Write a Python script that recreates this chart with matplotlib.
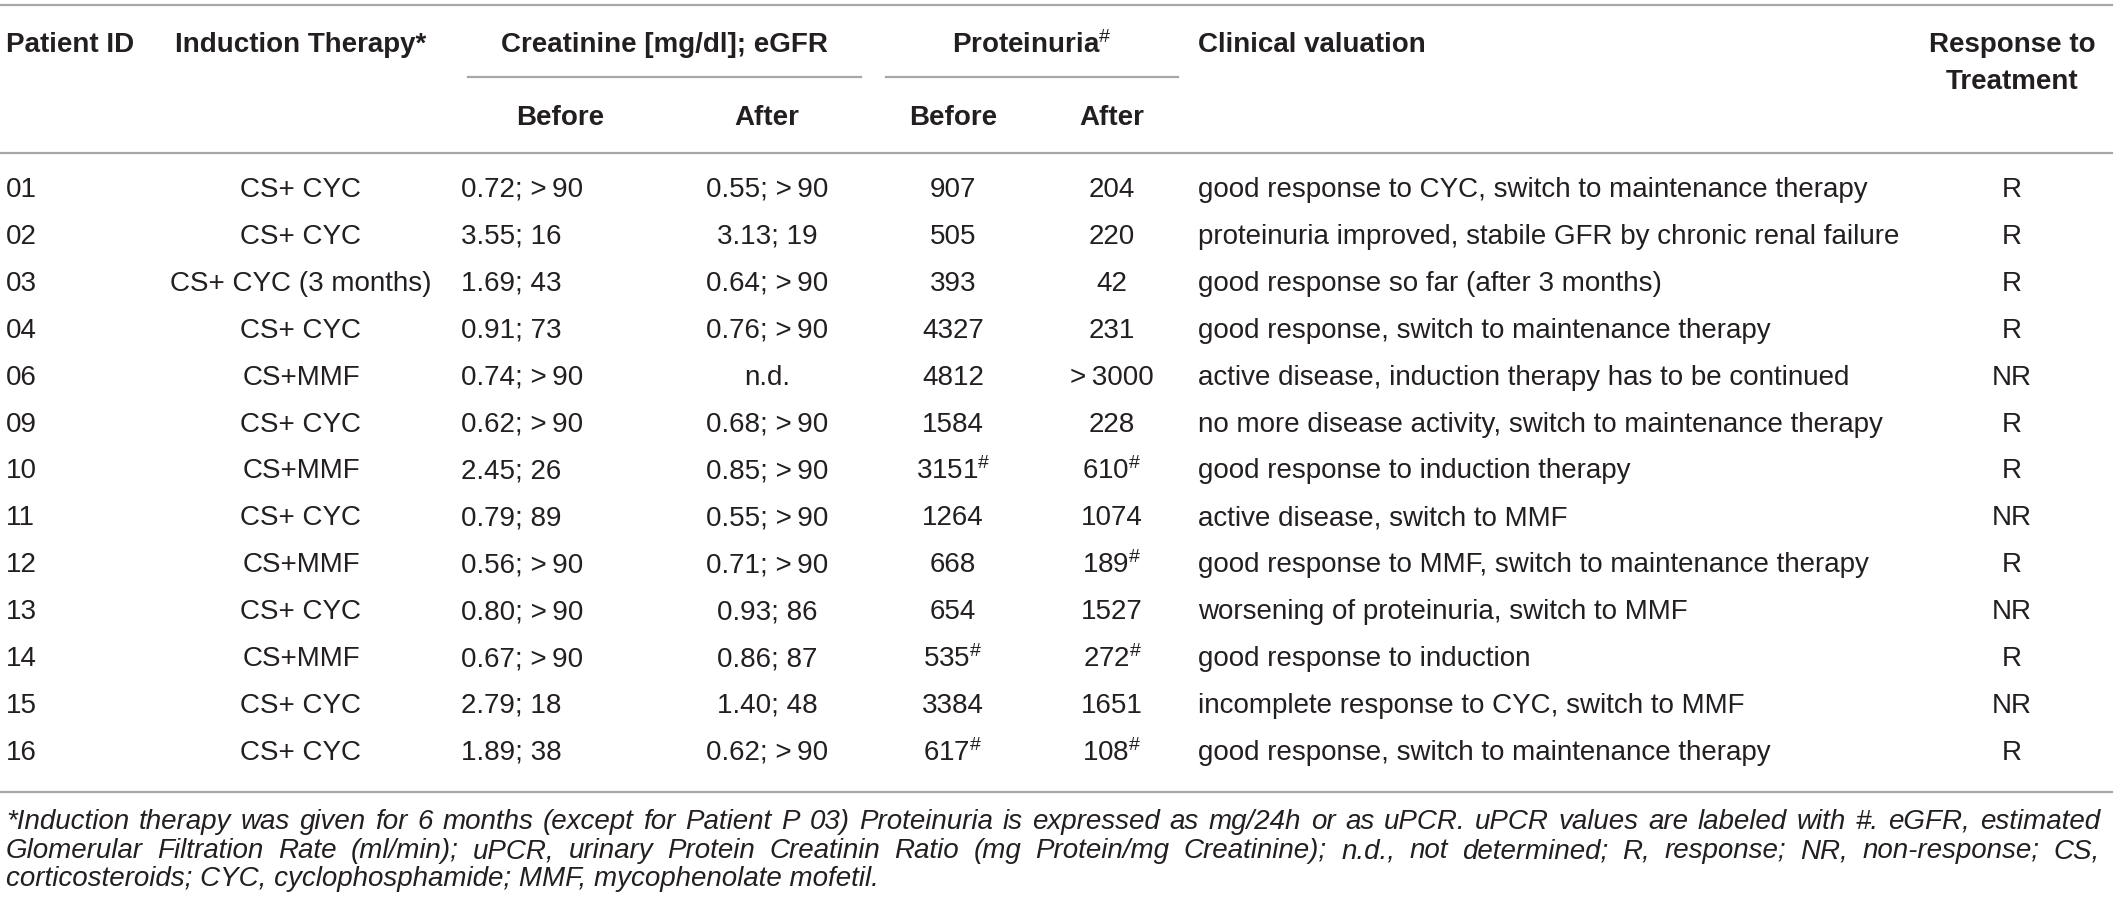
import matplotlib
matplotlib.use("Agg")
import matplotlib.pyplot as plt

plt.rcParams['font.family'] = ['Liberation Sans', 'DejaVu Sans']
plt.rcParams['mathtext.fontset'] = 'custom'
plt.rcParams['mathtext.rm'] = 'Liberation Sans'
plt.rcParams['mathtext.it'] = 'Liberation Sans:italic'
plt.rcParams['mathtext.bf'] = 'Liberation Sans:bold'

# table data
patient_ids = ['01', '02', '03', '04', '06', '09', '10', '11', '12', '13', '14', '15', '16']
induction = ['CS+ CYC', 'CS+ CYC', 'CS+ CYC (3 months)', 'CS+ CYC', 'CS+MMF', 'CS+ CYC',
             'CS+MMF', 'CS+ CYC', 'CS+MMF', 'CS+ CYC', 'CS+MMF', 'CS+ CYC', 'CS+ CYC']
creat_before = ['0.72; >90', '3.55; 16', '1.69; 43', '0.91; 73', '0.74; >90', '0.62; >90',
                '2.45; 26', '0.79; 89', '0.56; >90', '0.80; >90', '0.67; >90', '2.79; 18', '1.89; 38']
creat_after = ['0.55; >90', '3.13; 19', '0.64; >90', '0.76; >90', 'n.d.', '0.68; >90',
               '0.85; >90', '0.55; >90', '0.71; >90', '0.93; 86', '0.86; 87', '1.40; 48', '0.62; >90']
prot_before = ['907', '505', '393', '4327', '4812', '1584', '3151#', '1264', '668', '654',
               '535#', '3384', '617#']
prot_after = ['204', '220', '42', '231', '>3000', '228', '610#', '1074', '189#', '1527',
              '272#', '1651', '108#']
clinical = [
    'good response to CYC, switch to maintenance therapy',
    'proteinuria improved, stabile GFR by chronic renal failure',
    'good response so far (after 3 months)',
    'good response, switch to maintenance therapy',
    'active disease, induction therapy has to be continued',
    'no more disease activity, switch to maintenance therapy',
    'good response to induction therapy',
    'active disease, switch to MMF',
    'good response to MMF, switch to maintenance therapy',
    'worsening of proteinuria, switch to MMF',
    'good response to induction',
    'incomplete response to CYC, switch to MMF',
    'good response, switch to maintenance therapy',
]
response = ['R', 'R', 'R', 'R', 'NR', 'R', 'R', 'NR', 'R', 'NR', 'R', 'NR', 'R']

footnote = [
    '*Induction therapy was given for 6 months (except for Patient P 03) Proteinuria is expressed '
    'as mg/24h or as uPCR. uPCR values are labeled with #. eGFR, estimated',
    'Glomerular Filtration Rate (ml/min); uPCR, urinary Protein Creatinin Ratio (mg Protein/mg '
    'Creatinine); n.d., not determined; R, response; NR, non-response; CS,',
    'corticosteroids; CYC, cyclophosphamide; MMF, mycophenolate mofetil.',
]

W, H = 2117, 915
TXT = '#231f20'
LINE = '#a7a7a7'
FS = 20

fig = plt.figure(figsize=(W / 100, H / 100), dpi=100)
ax = fig.add_axes([0, 0, 1, 1])
ax.set_xlim(0, W)
ax.set_ylim(H, 0)
ax.axis('off')


def cell(s):
    s = s.replace('>', '>\u2009')
    if s.endswith('#'):
        return s[:-1] + r'$^{\#}$'
    return s


# header
hy1, hy2 = 45, 118
bold = dict(fontsize=FS, fontweight='bold', color=TXT, va='center')
ax.text(6, hy1, 'Patient ID', ha='left', **bold)
ax.text(301, hy1, 'Induction Therapy*', ha='center', **bold)
ax.text(664, hy1, 'Creatinine [mg/dl]; eGFR', ha='center', **bold)
ax.text(1032, hy1, r'Proteinuria$^{\#}$', ha='center', **bold)
ax.text(1198, hy1, 'Clinical valuation', ha='left', **bold)
ax.text(2012, hy1, 'Response to', ha='center', **bold)
ax.text(2012, 82, 'Treatment', ha='center', **bold)
ax.text(560, hy2, 'Before', ha='center', **bold)
ax.text(767, hy2, 'After', ha='center', **bold)
ax.text(953, hy2, 'Before', ha='center', **bold)
ax.text(1112, hy2, 'After', ha='center', **bold)

ax.plot([0, 2112], [5, 5], color=LINE, lw=1.6)
ax.plot([468, 861], [77, 77], color=LINE, lw=1.6)
ax.plot([886, 1178], [77, 77], color=LINE, lw=1.6)
ax.plot([0, 2112], [153, 153], color=LINE, lw=1.6)

# body
y0, step = 190, 46.9
norm = dict(fontsize=FS, color=TXT, va='center')
for i in range(len(patient_ids)):
    y = y0 + i * step
    ax.text(6, y, patient_ids[i], ha='left', **norm)
    ax.text(301, y, induction[i], ha='center', **norm)
    ax.text(461, y, cell(creat_before[i]), ha='left', **norm)
    ax.text(767, y, cell(creat_after[i]), ha='center', **norm)
    ax.text(953, y, cell(prot_before[i]), ha='center', **norm)
    ax.text(1112, y, cell(prot_after[i]), ha='center', **norm)
    ax.text(1198, y, clinical[i], ha='left', **norm)
    ax.text(2012, y, response[i], ha='center', **norm)

ax.plot([0, 2112], [792, 792], color=LINE, lw=1.6)

# footnote, justified
renderer = fig.canvas.get_renderer()
left, right = 6, 2100
foot_y = [822, 851, 879]
for k, line in enumerate(footnote):
    words = line.split(' ')
    if k == len(footnote) - 1:
        ax.text(left, foot_y[k], line, ha='left', va='center', fontsize=FS,
                style='italic', color=TXT)
        continue
    arts = [ax.text(0, foot_y[k], w, ha='left', va='center', fontsize=FS,
                    style='italic', color=TXT) for w in words]
    widths = [a.get_window_extent(renderer).width for a in arts]
    gap = (right - left - sum(widths)) / (len(words) - 1)
    x = left
    for a, w in zip(arts, widths):
        a.set_x(x)
        x += w + gap

fig.savefig('out.png', dpi=100)
